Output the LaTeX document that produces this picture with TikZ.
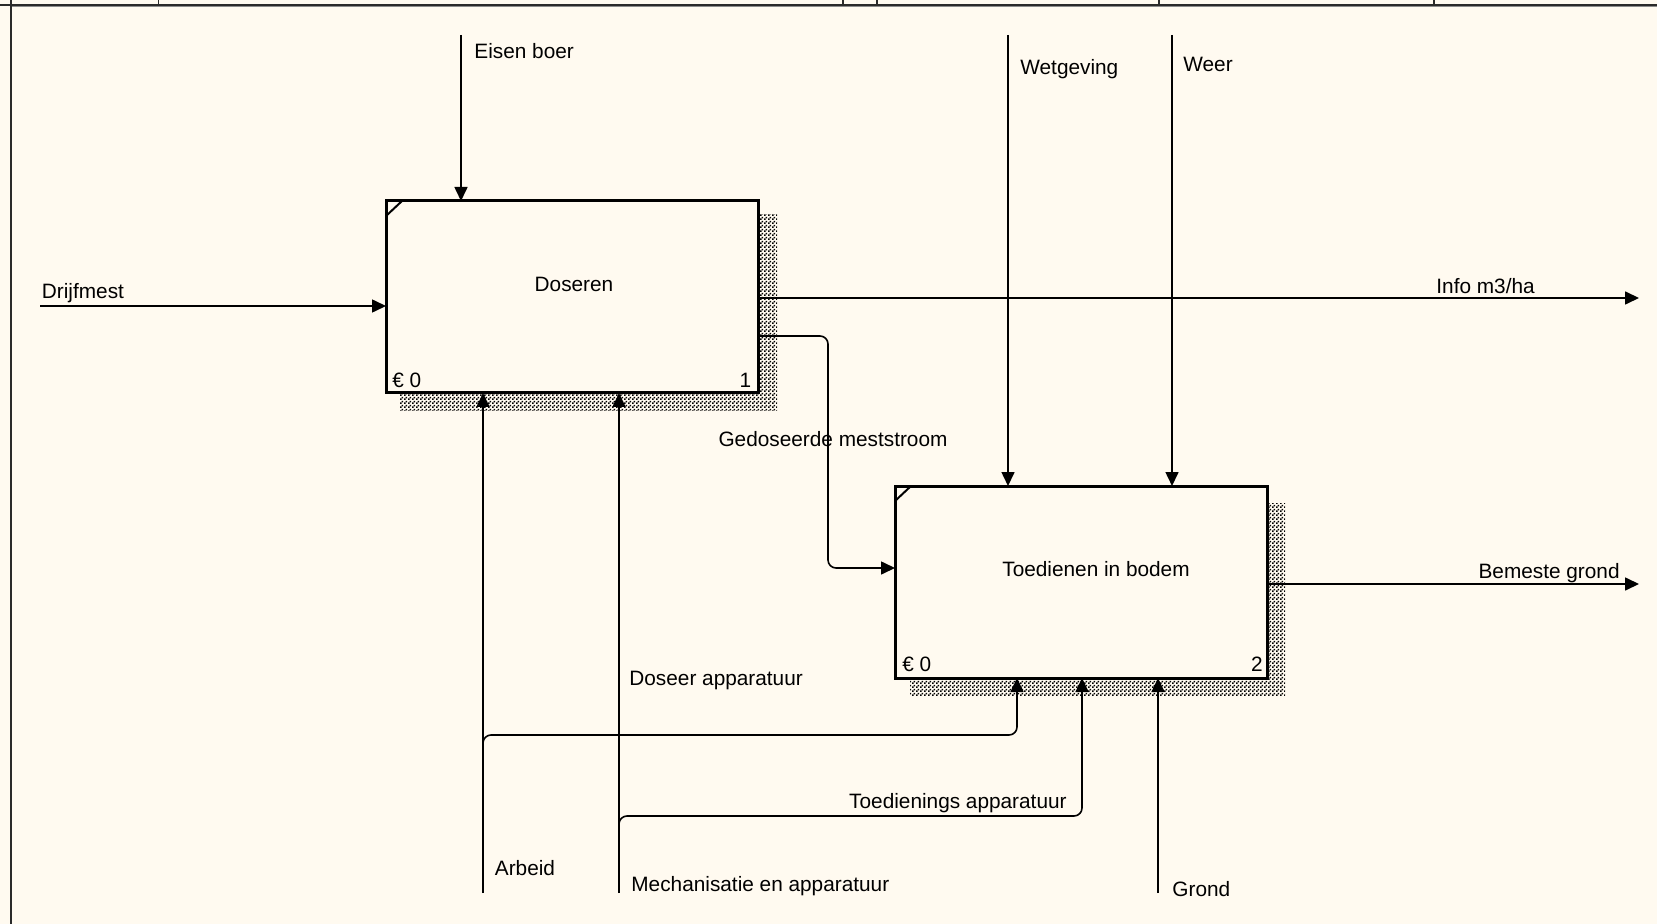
\documentclass[tikz,border=0pt]{standalone}
\usepackage{fontspec}
\setmainfont{Liberation Sans}
\usepackage{xcolor}
\usepackage{tikz}
\usetikzlibrary{positioning,arrows.meta,patterns.meta}
\definecolor{idefpaper}{HTML}{FFFAF0}
\definecolor{idefline}{HTML}{2A2A2A}

\tikzdeclarepattern{
  name=idefdots, type=uncolored,
  bottom left={(0pt,0pt)}, top right={(2pt,2pt)}, tile size={(2pt,2pt)},
  code={
    \fill (0pt,0pt) rectangle (1pt,1pt);
    \fill (1pt,1pt) rectangle (2pt,2pt);
  }
}

\begin{document}
\begin{tikzpicture}[
    x=0.5pt, y=-0.5pt,
    node distance=46.5pt and 68.5pt,
    every node/.style={font=\fontsize{10.4}{12}\selectfont},
    actbox/.style={draw, line width=1.5pt, fill=idefpaper, minimum width=186pt,
                   minimum height=96pt, inner sep=0pt, outer sep=0pt},
    shade/.style={pattern=idefdots, pattern color=black},
    arr/.style={-{Triangle[length=7pt,width=6.5pt]}, line width=0.8pt},
    lbl/.style={inner sep=0pt},
]
    \fill[idefpaper] (0,0) rectangle (1657,924);
    \useasboundingbox (0,0) rectangle (1657,924);

    % frame
    \draw[idefline, line width=1pt] (0,5) -- (1657,5);
    \draw[black!45, line width=0.5pt] (11,7) -- (1657,7);
    \draw[idefline, line width=0.9pt] (11,0) -- (11,924);
    \foreach \x in {158.5,843,877,1159,1434}
        \draw[idefline, line width=0.6pt] (\x,0) -- (\x,5);

    % activities
    \node[actbox] (doseren) at (572,297) {};
    \node[actbox, below right=of doseren] (toedienen) {};

    \fill[shade] ([shift={(14,14)}]doseren.north west) rectangle ([shift={(19,18)}]doseren.south east);
    \fill[shade] ([shift={(15,17)}]toedienen.north west) rectangle ([shift={(18,17)}]toedienen.south east);
    \node[actbox] at (doseren) {};
    \node[actbox] at (toedienen) {};
    \draw[line width=1pt] ([shift={(0,15)}]doseren.north west) -- ([shift={(16,0)}]doseren.north west);
    \draw[line width=1pt] ([shift={(0,15)}]toedienen.north west) -- ([shift={(16,0)}]toedienen.north west);

    \node[lbl, anchor=base] (doserentxt) at (574,291.5) {Doseren};
    \node[lbl, anchor=base] (toedtxt) at (1096,576) {Toedienen in bodem};
    \node[lbl, anchor=base west] (kosten1) at (392,387) {€ 0};
    \node[lbl, anchor=base east] (nr1) at (751.5,387) {1};
    \node[lbl, anchor=base west] (kosten2) at (902,671.5) {€ 0};
    \node[lbl, anchor=base east] (nr2) at (1263,671.5) {2};

    % free ends and bends
    \coordinate (drijfin) at (40,306);
    \coordinate (eisenin) at (461,35);
    \coordinate (wetin) at (1008,35);
    \coordinate (weerin) at (1172,35);
    \coordinate (infoout) at (1639,298);
    \coordinate (grondout) at (1639,584);
    \coordinate (arbeidin) at (483,893);
    \coordinate (mechin) at (619,893);
    \coordinate (grondin) at (1158,893);
    \coordinate (mestbend) at (828,336);
    \coordinate (mestin) at (828,568);
    \coordinate (arbeidsplit) at (483,735);
    \coordinate (arbeidup) at (1017,735);
    \coordinate (mechsplit) at (619,816);
    \coordinate (mechup) at (1082,816);

    \draw[arr] (drijfin) -- (drijfin -| doseren.west);
    \draw[arr] (eisenin) -- (eisenin |- doseren.north);
    \draw[arr] (doseren.east |- infoout) -- (infoout);
    \draw[arr, rounded corners=4pt] (doseren.east |- mestbend) -- (mestbend) -- (mestin) -- (mestin -| toedienen.west);
    \draw[arr] (wetin) -- (wetin |- toedienen.north);
    \draw[arr] (weerin) -- (weerin |- toedienen.north);
    \draw[arr] (toedienen.east |- grondout) -- (grondout);
    \draw[arr] (arbeidin) -- (arbeidin |- doseren.south);
    \draw[arr] (mechin) -- (mechin |- doseren.south);
    \draw[arr, rounded corners=4pt] ([shift={(0,8)}]arbeidsplit) -- (arbeidsplit) -- (arbeidup) -- (arbeidup |- toedienen.south);
    \draw[arr, rounded corners=4pt] ([shift={(0,8)}]mechsplit) -- (mechsplit) -- (mechup) -- (mechup |- toedienen.south);
    \draw[arr] (grondin) -- (grondin |- toedienen.south);

    \node[lbl, anchor=base west] (drijflbl) at (41.5,298.5) {Drijfmest};
    \node[lbl, anchor=base west] (eisenlbl) at (474,59) {Eisen boer};
    \node[lbl, anchor=base west] (wetlbl) at (1020,75) {Wetgeving};
    \node[lbl, anchor=base west] (weerlbl) at (1183,71.5) {Weer};
    \node[lbl, anchor=base west] (infolbl) at (1436,293.5) {Info m3/ha};
    \node[lbl, anchor=base east] (bemlbl) at (1620,578.5) {Bemeste grond};
    \node[lbl, anchor=base] (mestlbl) at (833,446.5) {Gedoseerde meststroom};
    \node[lbl, anchor=base west] (doseerlbl) at (629,685) {Doseer apparatuur};
    \node[lbl, anchor=base east] (toedlbl) at (1067,808) {Toedienings apparatuur};
    \node[lbl, anchor=base west] (arbeidlbl) at (494.5,875.5) {Arbeid};
    \node[lbl, anchor=base west] (mechlbl) at (631,891) {Mechanisatie en apparatuur};
    \node[lbl, anchor=base west] (grondlbl) at (1172,896) {Grond};
\end{tikzpicture}
\end{document}
